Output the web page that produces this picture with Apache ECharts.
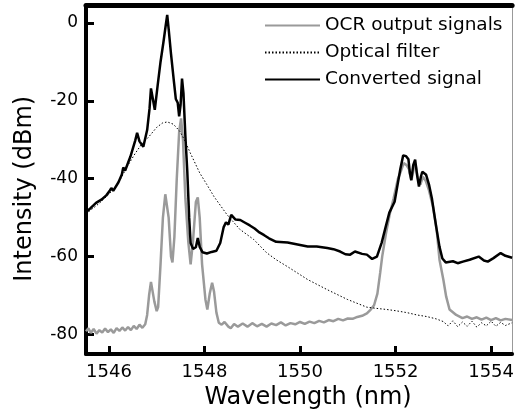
<!DOCTYPE html>
<html>
<head>
<meta charset="utf-8">
<script src="https://cdn.jsdelivr.net/npm/echarts@6/dist/echarts.min.js"></script>
<style>
  html, body { margin: 0; padding: 0; background: #fff; }
  #chart { width: 517px; height: 415px; }
</style>
</head>
<body>
<div id="chart"></div>
<script>
// wavelength (nm) / intensity (dBm) pairs
const ocrOutput = [
  [1545.52,-79.2],[1545.57,-78.4],[1545.62,-79.6],[1545.68,-78.6],[1545.74,-79.8],[1545.8,-78.9],
  [1545.86,-79.5],[1545.92,-78.5],[1545.98,-79.4],[1546.04,-78.7],[1546.1,-79.6],[1546.16,-78.4],
  [1546.22,-79.1],[1546.28,-78.2],[1546.34,-79],[1546.4,-78.1],[1546.46,-78.9],[1546.52,-77.8],
  [1546.58,-78.6],[1546.64,-77.5],[1546.7,-78.3],[1546.76,-77.4],[1546.8,-75],[1546.84,-70],
  [1546.88,-66.5],[1546.91,-66.8],[1546.95,-71.5],[1547.0,-74],[1547.03,-73],[1547.08,-62],
  [1547.13,-50],[1547.18,-44],[1547.21,-43.6],[1547.25,-50],[1547.3,-60],[1547.33,-61.5],
  [1547.37,-55],[1547.42,-40],[1547.47,-28],[1547.51,-24.5],[1547.55,-30],[1547.6,-45],
  [1547.66,-56],[1547.71,-62],[1547.76,-56],[1547.82,-46],[1547.86,-44.8],[1547.9,-50],
  [1547.95,-62],[1548.02,-71],[1548.06,-73.6],[1548.11,-69.5],[1548.16,-66.7],[1548.2,-69],
  [1548.25,-74.4],[1548.3,-77],[1548.36,-77.5],[1548.42,-76.8],[1548.5,-78],[1548.55,-78.4],
  [1548.62,-77.3],[1548.7,-78],[1548.8,-77.2],[1548.9,-78],[1549.0,-77.1],[1549.1,-77.9],
  [1549.2,-77.3],[1549.3,-78],[1549.4,-77.2],[1549.5,-77.6],[1549.6,-76.9],[1549.7,-77.7],
  [1549.8,-77.1],[1549.9,-77.4],[1550.0,-76.8],[1550.1,-77.3],[1550.2,-76.7],[1550.3,-77.1],
  [1550.4,-76.5],[1550.5,-76.9],[1550.6,-76.3],[1550.7,-76.6],[1550.8,-76],[1550.9,-76.4],
  [1551.0,-75.9],[1551.1,-76],[1551.2,-75.5],[1551.3,-75.2],[1551.4,-74.6],[1551.48,-73.6],
  [1551.55,-72.5],[1551.62,-69.5],[1551.68,-64],[1551.72,-60],[1551.8,-54],[1551.88,-49],
  [1551.96,-45],[1552.05,-40],[1552.1,-38.5],[1552.17,-36],[1552.23,-36.5],[1552.28,-37.5],
  [1552.33,-40.5],[1552.38,-37.5],[1552.42,-36.5],[1552.47,-40],[1552.52,-41.5],[1552.57,-39.5],
  [1552.63,-40.5],[1552.7,-43],[1552.78,-47],[1552.86,-53],[1552.92,-60.8],[1553.0,-65.9],
  [1553.06,-70.3],[1553.13,-73.6],[1553.27,-75],[1553.4,-75.8],[1553.5,-75.4],[1553.6,-76],
  [1553.7,-75.6],[1553.8,-76.2],[1553.9,-75.7],[1554.0,-76.3],[1554.1,-75.8],[1554.2,-76.4],
  [1554.3,-76],[1554.44,-76.3]
];

const opticalFilter = [
  [1545.52,-49],[1545.8,-46.3],[1546.0,-44],[1546.2,-41],[1546.4,-36.5],[1546.55,-33.5],
  [1546.68,-31.2],[1546.83,-29.3],[1547.0,-26.8],[1547.12,-25.7],[1547.22,-25.4],[1547.35,-26],
  [1547.49,-27.9],[1547.6,-30.5],[1547.7,-33.3],[1547.9,-38.5],[1548.05,-41.5],[1548.2,-44.6],
  [1548.47,-49.2],[1548.74,-53],[1549.03,-55.6],[1549.3,-59],[1549.5,-60.8],[1549.74,-62.6],
  [1550.16,-65.9],[1550.57,-68.5],[1550.99,-71],[1551.4,-73],[1551.6,-73.3],[1551.82,-73.6],
  [1552.0,-73.9],[1552.24,-74.4],[1552.45,-75],[1552.65,-75.4],[1552.85,-76],[1553.0,-76.7],
  [1553.1,-77.8],[1553.2,-76.5],[1553.3,-78],[1553.4,-76.8],[1553.5,-77.9],[1553.6,-76.6],
  [1553.7,-78.1],[1553.8,-77],[1553.9,-77.8],[1554.0,-76.6],[1554.1,-77.9],[1554.2,-76.9],
  [1554.3,-77.7],[1554.44,-77]
];

const convertedSignal = [
  [1545.52,-48.6],[1545.62,-47.5],[1545.73,-46.2],[1545.85,-45.3],[1545.95,-44.2],[1546.02,-43],
  [1546.05,-42.4],[1546.09,-43.1],[1546.2,-40.9],[1546.27,-38.9],[1546.3,-37.1],[1546.34,-37.9],
  [1546.45,-34.3],[1546.55,-30.2],[1546.59,-28.2],[1546.64,-30.4],[1546.72,-31.8],[1546.8,-27.5],
  [1546.85,-22],[1546.88,-16.8],[1546.92,-19.5],[1546.96,-22.3],[1547.02,-16],[1547.08,-10],
  [1547.14,-5],[1547.19,-0.5],[1547.22,2.1],[1547.25,-1.5],[1547.3,-8],[1547.36,-15],
  [1547.4,-19.5],[1547.44,-20.5],[1547.47,-24],[1547.5,-21],[1547.53,-14.3],[1547.56,-18],
  [1547.6,-29],[1547.64,-38],[1547.68,-50],[1547.71,-56.5],[1547.76,-58],[1547.82,-57.6],
  [1547.86,-55.2],[1547.9,-57.5],[1547.96,-58.9],[1548.05,-59.2],[1548.15,-58.8],[1548.25,-58.5],
  [1548.33,-56.5],[1548.4,-52.5],[1548.45,-51.2],[1548.5,-51.8],[1548.56,-49.3],[1548.6,-49.6],
  [1548.65,-50.5],[1548.75,-50.6],[1548.85,-51.3],[1548.95,-52],[1549.05,-52.8],[1549.15,-53.8],
  [1549.25,-54.5],[1549.35,-55.3],[1549.5,-56.2],[1549.74,-56.4],[1549.95,-56.9],[1550.16,-57.4],
  [1550.35,-57.4],[1550.57,-57.8],[1550.7,-58.1],[1550.84,-58.7],[1550.95,-59.4],[1551.05,-59.5],
  [1551.15,-58.7],[1551.3,-59.3],[1551.4,-59.5],[1551.51,-60.6],[1551.61,-60],[1551.71,-56.4],
  [1551.78,-53],[1551.87,-48.7],[1551.98,-45.9],[1552.05,-41],[1552.1,-37.5],[1552.16,-34],
  [1552.22,-34.2],[1552.27,-35],[1552.3,-38.5],[1552.33,-40.3],[1552.37,-36.5],[1552.41,-35.1],
  [1552.45,-39],[1552.49,-42],[1552.53,-39.5],[1552.56,-38.2],[1552.64,-39],[1552.7,-41.5],
  [1552.76,-45],[1552.85,-52.3],[1552.92,-57.5],[1552.98,-60.5],[1553.05,-61.5],[1553.2,-61.2],
  [1553.3,-61.7],[1553.41,-61.3],[1553.55,-60.8],[1553.74,-60],[1553.85,-61],[1553.93,-61.3],
  [1554.05,-60.4],[1554.2,-59.1],[1554.3,-59.8],[1554.44,-60.3]
];

const xTicks = [1546, 1548, 1550, 1552, 1554];
const yTicks = [-80, -60, -40, -20, 0];
const seriesNames = ["OCR output signals", "Optical filter", "Converted signal"];

const FONT = "DejaVu Sans";
const xMin = 1545.52, xMax = 1554.44;
const yMin = -85.05, yMax = 4.5;

let myChart = echarts.init(document.getElementById("chart"));
myChart.setOption({
  animation: false,
  backgroundColor: "#fff",
  grid: { left: 86, right: 1, top: 5.5, bottom: 60 },
  legend: {
    orient: "vertical",
    left: 259,
    top: 11,
    itemWidth: 55,
    itemHeight: 19,
    itemGap: 8,
    itemStyle: { opacity: 0 },
    textStyle: { fontFamily: FONT, fontSize: 18.5, color: "#000" },
    data: seriesNames
  },
  xAxis: [
    {
      type: "value",
      min: xMin,
      max: xMax,
      name: "Wavelength (nm)",
      nameLocation: "middle",
      nameGap: 28,
      nameTextStyle: { fontFamily: FONT, fontSize: 24, color: "#000", padding: [0, 0, 0, 18] },
      axisLine: { onZero: false, lineStyle: { color: "#000", width: 4 } },
      axisTick: { inside: true, length: 8, lineStyle: { width: 3, color: "#000" }, customValues: xTicks },
      axisLabel: { fontFamily: FONT, fontSize: 18, color: "#000", margin: 9, customValues: xTicks,
        formatter: v => String(v) },
      splitLine: { show: false }
    },
    {
      type: "value",
      position: "top",
      min: xMin,
      max: xMax,
      axisLine: { show: true, onZero: false, lineStyle: { color: "#000", width: 5 } },
      axisTick: { show: false },
      axisLabel: { show: false },
      splitLine: { show: false }
    }
  ],
  yAxis: [
    {
      type: "value",
      min: yMin,
      max: yMax,
      name: "Intensity (dBm)",
      nameLocation: "middle",
      nameRotate: 90,
      nameGap: 49,
      nameTextStyle: { fontFamily: FONT, fontSize: 24, color: "#000", padding: [0, 18, 0, 0] },
      axisLine: { show: true, onZero: false, lineStyle: { color: "#000", width: 4 } },
      axisTick: { inside: true, length: 8, lineStyle: { width: 3, color: "#000" }, customValues: yTicks },
      axisLabel: { fontFamily: FONT, fontSize: 17, color: "#000", margin: 8, customValues: yTicks },
      splitLine: { show: false }
    },
    {
      type: "value",
      position: "right",
      min: yMin,
      max: yMax,
      axisLine: { show: true, onZero: false, lineStyle: { color: "#999", width: 1 } },
      axisTick: { show: false },
      axisLabel: { show: false },
      splitLine: { show: false }
    }
  ],
  series: [
    {
      name: seriesNames[0],
      type: "line",
      data: ocrOutput,
      symbol: "none",
      color: "#9a9a9a",
      lineStyle: { color: "#9a9a9a", width: 2.5 }
    },
    {
      name: seriesNames[1],
      type: "line",
      data: opticalFilter,
      symbol: "none",
      color: "#000",
      lineStyle: { color: "#000", width: 1, type: [1.5, 2] }
    },
    {
      name: seriesNames[2],
      type: "line",
      data: convertedSignal,
      symbol: "none",
      color: "#000",
      lineStyle: { color: "#000", width: 2.5 }
    }
  ]
});
</script>
</body>
</html>
